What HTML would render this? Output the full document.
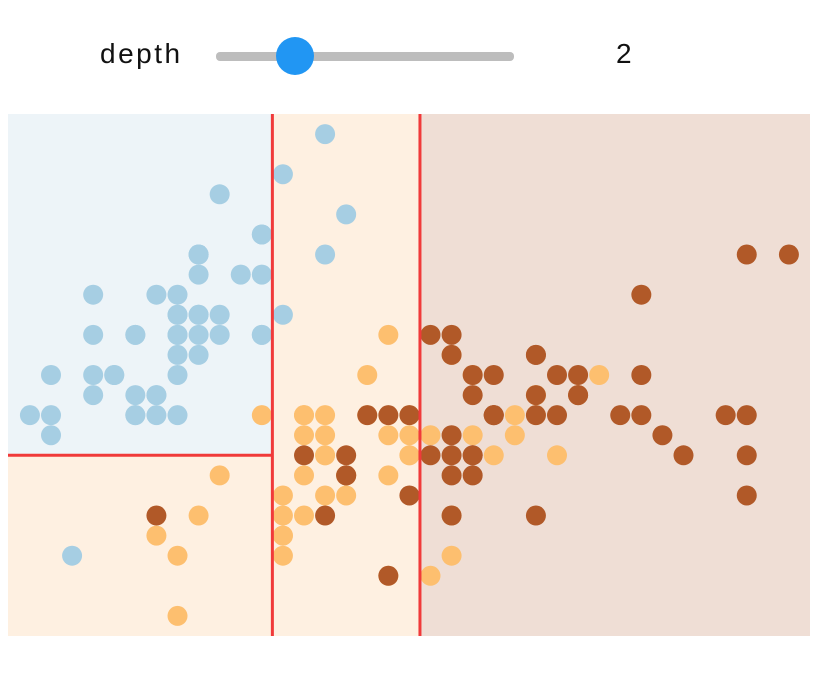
<!DOCTYPE html>
<html><head><meta charset="utf-8"><style>
body{margin:0;background:#fff;width:828px;height:686px;overflow:hidden;font-family:"Liberation Sans",sans-serif;}
#ctrl{position:absolute;left:0;top:0;width:828px;height:110px;}
#lbl{position:absolute;left:100px;top:38px;font-size:28px;letter-spacing:2.5px;color:#111;}
#track{position:absolute;left:216px;top:52px;width:298px;height:9px;background:#bdbdbd;border-radius:4px;}
#thumb{position:absolute;left:276px;top:37px;width:38px;height:38px;border-radius:50%;background:#2196f3;}
#val{position:absolute;left:616px;top:38px;font-size:28px;color:#111;}
svg{position:absolute;left:0;top:0;}
</style></head><body>
<div id="ctrl">
<div id="lbl">depth</div>
<div id="track"></div>
<div id="thumb"></div>
<div id="val">2</div>
</div>
<svg id="chart" width="828" height="686"></svg>
<script>
const setosa=[[5.1,3.5],[4.9,3.0],[4.7,3.2],[4.6,3.1],[5.0,3.6],[5.4,3.9],[4.6,3.4],[5.0,3.4],[4.4,2.9],[4.9,3.1],[5.4,3.7],[4.8,3.4],[4.8,3.0],[4.3,3.0],[5.8,4.0],[5.7,4.4],[5.4,3.9],[5.1,3.5],[5.7,3.8],[5.1,3.8],[5.4,3.4],[5.1,3.7],[4.6,3.6],[5.1,3.3],[4.8,3.4],[5.0,3.0],[5.0,3.4],[5.2,3.5],[5.2,3.4],[4.7,3.2],[4.8,3.1],[5.4,3.4],[5.2,4.1],[5.5,4.2],[4.9,3.1],[5.0,3.2],[5.5,3.5],[4.9,3.6],[4.4,3.0],[5.1,3.4],[5.0,3.5],[4.5,2.3],[4.4,3.2],[5.0,3.5],[5.1,3.8],[4.8,3.0],[5.1,3.8],[4.6,3.2],[5.3,3.7],[5.0,3.3]];
const versicolor=[[7.0,3.2],[6.4,3.2],[6.9,3.1],[5.5,2.3],[6.5,2.8],[5.7,2.8],[6.3,3.3],[4.9,2.4],[6.6,2.9],[5.2,2.7],[5.0,2.0],[5.9,3.0],[6.0,2.2],[6.1,2.9],[5.6,2.9],[6.7,3.1],[5.6,3.0],[5.8,2.7],[6.2,2.2],[5.6,2.5],[5.9,3.2],[6.1,2.8],[6.3,2.5],[6.1,2.8],[6.4,2.9],[6.6,3.0],[6.8,2.8],[6.7,3.0],[6.0,2.9],[5.7,2.6],[5.5,2.4],[5.5,2.4],[5.8,2.7],[6.0,2.7],[5.4,3.0],[6.0,3.4],[6.7,3.1],[6.3,2.3],[5.6,3.0],[5.5,2.5],[5.5,2.6],[6.1,3.0],[5.8,2.6],[5.0,2.3],[5.6,2.7],[5.7,3.0],[5.7,2.9],[6.2,2.9],[5.1,2.5],[5.7,2.8]];
const virginica=[[6.3,3.3],[5.8,2.7],[7.1,3.0],[6.3,2.9],[6.5,3.0],[7.6,3.0],[4.9,2.5],[7.3,2.9],[6.7,2.5],[7.2,3.6],[6.5,3.2],[6.4,2.7],[6.8,3.0],[5.7,2.5],[5.8,2.8],[6.4,3.2],[6.5,3.0],[7.7,3.8],[7.7,2.6],[6.0,2.2],[6.9,3.2],[5.6,2.8],[7.7,2.8],[6.3,2.7],[6.7,3.3],[7.2,3.2],[6.2,2.8],[6.1,3.0],[6.4,2.8],[7.2,3.0],[7.4,2.8],[7.9,3.8],[6.4,2.8],[6.3,2.8],[6.1,2.6],[7.7,3.0],[6.3,3.4],[6.4,3.1],[6.0,3.0],[6.9,3.1],[6.7,3.1],[6.9,3.1],[5.8,2.7],[6.8,3.2],[6.7,3.3],[6.7,3.0],[6.3,2.5],[6.5,3.0],[6.2,3.4],[5.9,3.0]];
const xDomain=[4.196,8.0], yDomain=[1.9,4.5];
const splitX1=5.45, splitX2=6.15, splitY=2.8;
const X0=8,X1=810,Y0=114,Y1=636;
const sx=v=>X0+(v-xDomain[0])/(xDomain[1]-xDomain[0])*(X1-X0);
const sy=v=>Y1-(v-yDomain[0])/(yDomain[1]-yDomain[0])*(Y1-Y0);
const svg=document.getElementById('chart');const NS='http://www.w3.org/2000/svg';
function rect(x,y,w,h,f,n){const r=document.createElementNS(NS,'rect');r.setAttribute('x',x);r.setAttribute('y',y);r.setAttribute('width',w);r.setAttribute('height',h);r.setAttribute('fill',f);


svg.appendChild(r);}
rect(X0,Y0,sx(splitX1)-X0,sy(splitY)-Y0,'#edf4f8','region-setosa');
rect(X0,sy(splitY),sx(splitX1)-X0,Y1-sy(splitY),'#fef0e1','region-versicolor-left');
rect(sx(splitX1),Y0,sx(splitX2)-sx(splitX1),Y1-Y0,'#fef0e1','region-versicolor-middle');
rect(sx(splitX2),Y0,X1-sx(splitX2),Y1-Y0,'#efded5','region-virginica');
function line(x1,y1,x2,y2,n){const l=document.createElementNS(NS,'line');l.setAttribute('x1',x1);l.setAttribute('y1',y1);l.setAttribute('x2',x2);l.setAttribute('y2',y2);l.setAttribute('stroke','#f03a3a');l.setAttribute('stroke-width','3');


svg.appendChild(l);}
[[setosa,'#a6cee3','setosa'],[versicolor,'#fdbf6f','versicolor'],[virginica,'#b15928','virginica']].forEach(([d,c,n])=>{
d.forEach(p=>{const e=document.createElementNS(NS,'circle');e.setAttribute('cx',sx(p[0]));e.setAttribute('cy',sy(p[1]));e.setAttribute('r',10);e.setAttribute('fill',c);


svg.appendChild(e);});});
line(sx(splitX1),Y0,sx(splitX1),Y1,'split-sepal-length-1');
line(sx(splitX2),Y0,sx(splitX2),Y1,'split-sepal-length-2');
line(X0,sy(splitY),sx(splitX1),sy(splitY),'split-sepal-width');
</script>
</body></html>
